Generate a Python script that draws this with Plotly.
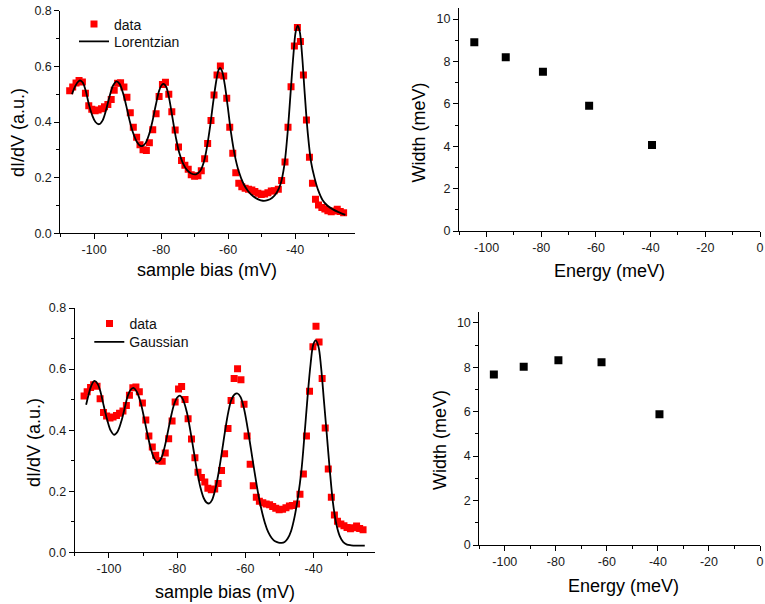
import plotly.graph_objects as go

W, H = 765, 604

# ---------------- data ----------------
bias_mV = [-107.3, -106.4, -105.4, -104.5, -103.5, -102.6, -101.6, -100.7, -99.7, -98.8,
           -97.8, -96.9, -95.9, -94.9, -94.0, -93.0, -92.1, -91.1, -90.2, -89.2,
           -88.3, -87.3, -86.3, -85.4, -84.4, -83.5, -82.5, -81.5, -80.6, -79.6,
           -78.7, -77.7, -76.8, -75.8, -74.8, -73.9, -72.9, -71.9, -71.0, -70.0,
           -69.0, -68.0, -67.0, -66.1, -65.1, -64.2, -63.3, -62.3, -61.3, -60.4,
           -59.5, -58.6, -57.7, -56.8, -55.9, -54.9, -53.9, -52.9, -52.0, -51.1,
           -50.1, -49.1, -48.1, -47.1, -46.2, -45.0, -44.0, -43.0, -42.1, -41.2,
           -40.2, -39.3, -38.4, -37.5, -36.6, -35.7, -34.8, -33.9, -33.0, -32.0,
           -31.1, -30.2, -29.2, -28.3, -27.4, -26.5, -25.5]
didv = [0.512, 0.526, 0.540, 0.549, 0.544, 0.503, 0.458, 0.446, 0.440, 0.443,
        0.448, 0.455, 0.463, 0.481, 0.514, 0.539, 0.541, 0.526, 0.489, 0.433,
        0.381, 0.345, 0.318, 0.300, 0.298, 0.325, 0.372, 0.430, 0.492, 0.535,
        0.543, 0.500, 0.437, 0.371, 0.310, 0.262, 0.245, 0.230, 0.210, 0.205,
        0.207, 0.225, 0.268, 0.323, 0.405, 0.497, 0.569, 0.601, 0.565, 0.485,
        0.381, 0.288, 0.218, 0.180, 0.167, 0.162, 0.158, 0.156, 0.150, 0.144,
        0.139, 0.141, 0.146, 0.152, 0.153, 0.158, 0.190, 0.256, 0.381, 0.527,
        0.673, 0.740, 0.689, 0.569, 0.407, 0.273, 0.180, 0.122, 0.102, 0.093,
        0.087, 0.081, 0.077, 0.080, 0.086, 0.078, 0.074]

lor_x = [-106.6, -105.6, -104.6, -104.1, -103.4, -102.5, -101.6, -100.6, -99.6, -98.5,
         -97.5, -96.5, -95.4, -94.3, -93.3, -92.4, -91.4, -90.4, -89.4, -88.4,
         -87.3, -86.3, -85.5, -84.6, -83.6, -82.6, -81.6, -80.6, -79.8, -79.2,
         -78.5, -77.6, -76.6, -75.6, -74.6, -73.5, -72.3, -71.0, -69.6, -68.3,
         -67.2, -66.2, -65.3, -64.4, -63.5, -62.9, -62.4, -61.8, -61.0, -60.1,
         -59.1, -58.0, -56.8, -55.4, -54.0, -52.5, -51.0, -49.6, -48.2, -46.8,
         -45.5, -44.3, -43.2, -42.2, -41.3, -40.5, -39.8, -39.2, -38.6, -37.9,
         -37.1, -36.2, -35.2, -34.2, -33.1, -31.8, -30.3, -28.7, -27.0, -25.0]
lor_y = [0.500, 0.530, 0.547, 0.549, 0.542, 0.512, 0.465, 0.425, 0.400, 0.392,
         0.405, 0.440, 0.492, 0.532, 0.546, 0.537, 0.505, 0.458, 0.405, 0.362,
         0.330, 0.315, 0.314, 0.325, 0.355, 0.402, 0.460, 0.512, 0.533, 0.537,
         0.527, 0.485, 0.415, 0.345, 0.290, 0.252, 0.228, 0.215, 0.212, 0.225,
         0.258, 0.318, 0.390, 0.475, 0.550, 0.585, 0.594, 0.583, 0.535, 0.455,
         0.360, 0.280, 0.222, 0.178, 0.151, 0.133, 0.122, 0.117, 0.119, 0.128,
         0.146, 0.178, 0.245, 0.365, 0.510, 0.640, 0.725, 0.746, 0.725, 0.640,
         0.500, 0.360, 0.255, 0.200, 0.155, 0.120, 0.099, 0.086, 0.076, 0.066]

gau_x = [-106.7, -106.0, -105.2, -104.3, -103.4, -102.4, -101.5, -100.5, -99.5, -98.5,
         -97.5, -96.4, -95.4, -94.5, -93.6, -92.7, -91.8, -90.7, -89.7, -88.7,
         -87.7, -86.7, -85.8, -84.9, -83.9, -82.9, -81.9, -80.9, -80.0, -79.2,
         -78.3, -77.2, -76.2, -75.2, -74.2, -73.2, -72.2, -71.4, -70.6, -69.8,
         -68.9, -67.9, -66.9, -65.9, -65.0, -64.1, -63.2, -62.3, -61.4, -60.4,
         -59.4, -58.4, -57.3, -56.3, -55.3, -54.3, -53.3, -52.3, -51.3, -50.3,
         -49.4, -48.5, -47.6, -46.6, -45.6, -44.6, -43.6, -42.7, -41.8, -40.9,
         -40.1, -39.4, -38.6, -37.8, -37.0, -36.2, -35.3, -34.3, -33.3, -32.3,
         -31.3, -30.2, -29.0, -27.5, -26.2, -25.0]
gau_y = [0.483, 0.515, 0.545, 0.561, 0.553, 0.522, 0.478, 0.433, 0.399, 0.385,
         0.395, 0.428, 0.472, 0.512, 0.533, 0.538, 0.525, 0.490, 0.440, 0.386,
         0.338, 0.306, 0.295, 0.303, 0.335, 0.385, 0.440, 0.485, 0.507, 0.513,
         0.500, 0.460, 0.402, 0.335, 0.268, 0.213, 0.177, 0.163, 0.160, 0.171,
         0.203, 0.258, 0.328, 0.402, 0.460, 0.500, 0.517, 0.520, 0.508, 0.470,
         0.410, 0.340, 0.262, 0.195, 0.140, 0.097, 0.066, 0.047, 0.036, 0.032,
         0.031, 0.034, 0.045, 0.070, 0.115, 0.180, 0.265, 0.380, 0.505, 0.615,
         0.680, 0.694, 0.675, 0.605, 0.500, 0.395, 0.275, 0.160, 0.090, 0.052,
         0.033, 0.025, 0.023, 0.022, 0.022, 0.022]

peak_energy_lor = [-104.5, -93.0, -79.4, -62.5, -39.5]
width_lor = [8.90, 8.20, 7.51, 5.91, 4.06]
peak_energy_gau = [-104.3, -92.6, -79.0, -62.1, -39.4]
width_gau = [7.67, 8.02, 8.32, 8.22, 5.88]

bias_tickvals = [-100, -80, -60, -40]
bias_ticktext = ["-100", "-80", "-60", "-40"]
energy_tickvals = [-100, -80, -60, -40, -20, 0]
energy_ticktext = ["-100", "-80", "-60", "-40", "-20", "0"]

xtitle_left = "sample bias (mV)"
ytitle_left = "dI/dV (a.u.)"
xtitle_right = "Energy (meV)"
ytitle_right = "Width (meV)"

# ---------------- figure ----------------
FONT = "Arial, Liberation Sans, sans-serif"
RED = "#ff0000"


def px_x(p):
    return p / W


def px_y(p):
    return 1 - p / H


fig = go.Figure()

fig.add_trace(go.Scatter(x=bias_mV, y=didv, mode="markers", name="data",
                         marker=dict(symbol="square", size=7, color=RED),
                         xaxis="x", yaxis="y", legend="legend"))
fig.add_trace(go.Scatter(x=lor_x, y=lor_y, mode="lines", name="Lorentzian",
                         line=dict(color="black", width=1.8, shape="spline"),
                         xaxis="x", yaxis="y", legend="legend2"))
fig.add_trace(go.Scatter(x=peak_energy_lor, y=width_lor, mode="markers", showlegend=False,
                         marker=dict(symbol="square", size=8, color="black"),
                         xaxis="x2", yaxis="y2"))
fig.add_trace(go.Scatter(x=bias_mV, y=didv, mode="markers", name="data",
                         marker=dict(symbol="square", size=7, color=RED),
                         xaxis="x3", yaxis="y3", legend="legend3"))
fig.add_trace(go.Scatter(x=gau_x, y=gau_y, mode="lines", name="Gaussian",
                         line=dict(color="black", width=1.8, shape="spline"),
                         xaxis="x3", yaxis="y3", legend="legend4"))
fig.add_trace(go.Scatter(x=peak_energy_gau, y=width_gau, mode="markers", showlegend=False,
                         marker=dict(symbol="square", size=8, color="black"),
                         xaxis="x4", yaxis="y4"))


def axis_common():
    return dict(showline=True, linecolor="black", linewidth=1, mirror=False,
                showgrid=False, zeroline=False, ticks="outside", ticklen=5,
                tickwidth=1, tickcolor="black",
                tickfont=dict(family=FONT, size=12.5, color="#1a1a1a"))


def xax(domain, anchor, rng, tv, tt):
    d = axis_common()
    d.update(domain=domain, anchor=anchor, range=rng, tickmode="array",
             tickvals=tv, ticktext=tt,
             minor=dict(tickmode="linear", ticks="outside", ticklen=3, dtick=10, tick0=0,
                        tickcolor="black", showgrid=False))
    return d


def yax(domain, anchor, rng, dt, mdt, fmt=None):
    d = axis_common()
    d.update(domain=domain, anchor=anchor, range=rng, tickmode="linear",
             tick0=0, dtick=dt,
             minor=dict(tickmode="linear", ticks="outside", ticklen=3, dtick=mdt, tick0=0,
                        tickcolor="black", showgrid=False))
    if fmt:
        d["tickformat"] = fmt
    return d


layout = dict(
    width=W, height=H,
    margin=dict(l=0, r=0, t=0, b=0, autoexpand=False),
    paper_bgcolor="white", plot_bgcolor="white",
    font=dict(family=FONT, color="black"),
    xaxis=xax([px_x(60.3), px_x(355)], "y", [-110.1, -22.1], bias_tickvals, bias_ticktext),
    yaxis=yax([px_y(233.3), px_y(10.7)], "x", [0, 0.8], 0.2, 0.1, ".1f"),
    xaxis2=xax([px_x(459), px_x(760)], "y2", [-110.1, 0], energy_tickvals, energy_ticktext),
    yaxis2=yax([px_y(231), px_y(8.4)], "x2", [0, 10.5], 2, 1),
    xaxis3=xax([px_x(74.7), px_x(375)], "y3", [-110.05, -22.0], bias_tickvals, bias_ticktext),
    yaxis3=yax([px_y(552.3), px_y(308)], "x3", [0, 0.8], 0.2, 0.1, ".1f"),
    xaxis4=xax([px_x(479.3), px_x(760)], "y4", [-110, 0], energy_tickvals, energy_ticktext),
    yaxis4=yax([px_y(545), px_y(311.7)], "x4", [0, 10.5], 2, 1),
)


def leg(xc, yc):
    return dict(x=px_x(xc - 20), y=px_y(yc), xanchor="left", yanchor="middle",
                bgcolor="rgba(0,0,0,0)", borderwidth=0,
                font=dict(family=FONT, size=14, color="#111"))


layout["legend"] = leg(94, 24.5)
layout["legend2"] = leg(94, 41.7)
layout["legend3"] = leg(109.5, 323.8)
layout["legend4"] = leg(109.3, 342.3)

fig.update_layout(**layout)


def title(text, xc, yc, angle=0):
    fig.add_annotation(text=text, x=px_x(xc), y=px_y(yc), xref="paper", yref="paper",
                       xanchor="center", yanchor="middle", showarrow=False,
                       textangle=angle, font=dict(family=FONT, size=18, color="black"))


title(xtitle_left, 207, 270)
title(ytitle_left, 18, 133, -90)
title(xtitle_right, 609, 271)
title(ytitle_right, 418, 132.5, -90)
title(xtitle_left, 224.7, 592)
title(ytitle_left, 34, 443, -90)
title(xtitle_right, 623, 586)
title(ytitle_right, 440, 440, -90)

fig.write_html("out.html",
               config={"displayModeBar": False},
               post_script="document.body.style.margin='0';document.body.style.padding='0';")
